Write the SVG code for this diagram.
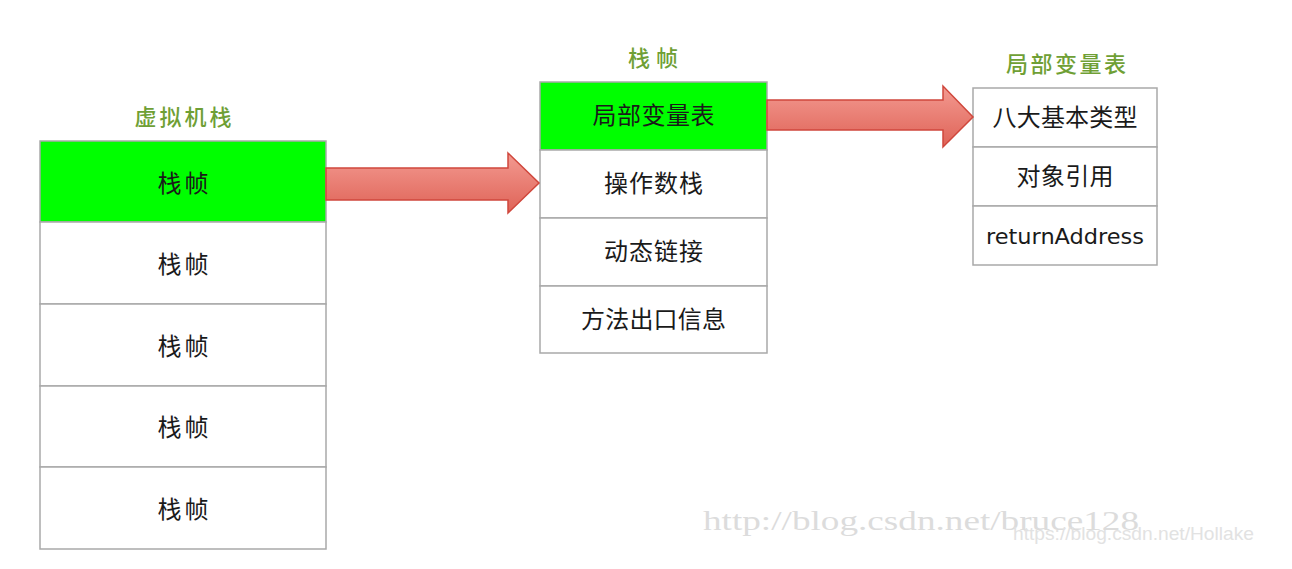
<svg xmlns="http://www.w3.org/2000/svg" width="1292" height="569" viewBox="0 0 1292 569">
<defs>
<linearGradient id="ag" x1="0" y1="0" x2="0" y2="1">
<stop offset="0" stop-color="#f39a91"/>
<stop offset="1" stop-color="#df6357"/>
</linearGradient>
</defs>
<style>
.cell{fill:#ffffff;stroke:#a9a9a9;stroke-width:1.5}
.hl{fill:#00ff00;stroke:#a9a9a9;stroke-width:1.5}
.t{font-family:"Noto Sans CJK SC","Noto Sans",sans-serif;font-size:24px;fill:#1a1a1a;text-anchor:middle}
.title{font-family:"Noto Sans CJK SC","Noto Sans",sans-serif;font-size:22px;font-weight:500;fill:#6f9f35;text-anchor:middle}
.arrow{fill:url(#ag);stroke:#d0473c;stroke-width:1.5;stroke-linejoin:miter}
.wm1{font-family:"Liberation Serif",serif;font-size:27px;fill:#dcdcdc}
.wm2{font-family:"Liberation Sans",sans-serif;font-size:19px;fill:#e2e2e2}
</style>
<rect width="1292" height="569" fill="#ffffff"/>

<g id="vm-stack">
<text class="title" x="183" y="125" textLength="97" lengthAdjust="spacing">虚拟机栈</text>
<rect class="hl" x="40" y="141" width="286" height="81"/>
<text class="t" x="183" y="192" textLength="51" lengthAdjust="spacing">栈帧</text>
<rect class="cell" x="40" y="222" width="286" height="82"/>
<text class="t" x="183" y="273" textLength="51" lengthAdjust="spacing">栈帧</text>
<rect class="cell" x="40" y="304" width="286" height="82"/>
<text class="t" x="183" y="355" textLength="51" lengthAdjust="spacing">栈帧</text>
<rect class="cell" x="40" y="386" width="286" height="81"/>
<text class="t" x="183" y="436" textLength="51" lengthAdjust="spacing">栈帧</text>
<rect class="cell" x="40" y="467" width="286" height="82"/>
<text class="t" x="183" y="518" textLength="51" lengthAdjust="spacing">栈帧</text>
</g>

<g id="frame">
<text class="title" x="653" y="66" textLength="50" lengthAdjust="spacing">栈帧</text>
<rect class="hl" x="540" y="82" width="227" height="68"/>
<text class="t" x="653.5" y="124" textLength="122" lengthAdjust="spacing">局部变量表</text>
<rect class="cell" x="540" y="150" width="227" height="68"/>
<text class="t" x="653.5" y="192" textLength="99" lengthAdjust="spacing">操作数栈</text>
<rect class="cell" x="540" y="218" width="227" height="68"/>
<text class="t" x="653.5" y="260" textLength="99" lengthAdjust="spacing">动态链接</text>
<rect class="cell" x="540" y="286" width="227" height="67"/>
<text class="t" x="653.5" y="328" textLength="145" lengthAdjust="spacing">方法出口信息</text>
</g>

<g id="local-vars">
<text class="title" x="1066" y="72" textLength="120" lengthAdjust="spacing">局部变量表</text>
<rect class="cell" x="973" y="88" width="184" height="59"/>
<text class="t" x="1065" y="126" textLength="145" lengthAdjust="spacing">八大基本类型</text>
<rect class="cell" x="973" y="147" width="184" height="59"/>
<text class="t" x="1065" y="185" textLength="97" lengthAdjust="spacing">对象引用</text>
<rect class="cell" x="973" y="206" width="184" height="59"/>
<text x="1065" y="244" text-anchor="middle" font-family="'DejaVu Sans',sans-serif" font-size="22" fill="#1a1a1a" textLength="158" lengthAdjust="spacingAndGlyphs">returnAddress</text>
</g>

<g id="connectors">
<path class="arrow" d="M326,168 L508,168 L508,153 L539,183 L508,213 L508,200 L326,200 Z"/>
<path class="arrow" d="M767,100 L943,100 L943,86 L973,117 L943,147 L943,130 L767,130 Z"/>
</g>

<g id="watermarks">
<text class="wm1" x="703" y="530" textLength="436" lengthAdjust="spacingAndGlyphs">http://blog.csdn.net/bruce128</text>
<text class="wm2" x="1013" y="540" textLength="241" lengthAdjust="spacingAndGlyphs">https://blog.csdn.net/Hollake</text>
</g>
</svg>
